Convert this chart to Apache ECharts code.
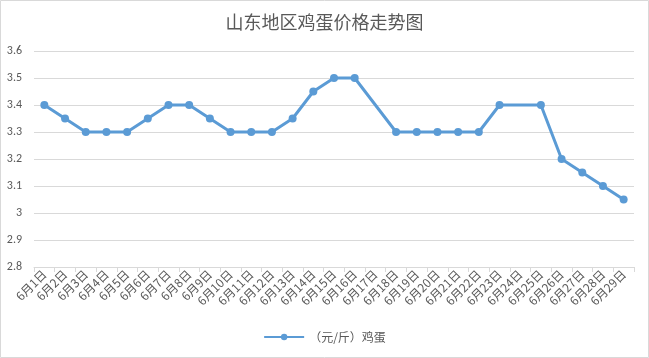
<!DOCTYPE html>
<html><head><meta charset="utf-8">
<script src="https://cdn.jsdelivr.net/npm/echarts@6/dist/echarts.min.js"></script>
<style>html,body{margin:0;padding:0;background:#fff}#c{width:649px;height:358px}</style>
</head><body><div id="c"></div>
<script>
const categories = ['6月1日','6月2日','6月3日','6月4日','6月5日','6月6日','6月7日','6月8日','6月9日','6月10日','6月11日','6月12日','6月13日','6月14日','6月15日','6月16日','6月17日','6月18日','6月19日','6月20日','6月21日','6月22日','6月23日','6月24日','6月25日','6月26日','6月27日','6月28日','6月29日'];
const eggPrice = [3.4,3.35,3.3,3.3,3.3,3.35,3.4,3.4,3.35,3.3,3.3,3.3,3.35,3.45,3.5,3.5,null,3.3,3.3,3.3,3.3,3.3,3.4,null,3.4,3.2,3.15,3.1,3.05];
const seriesName = '（元/斤）鸡蛋';
const chartTitle = '山东地区鸡蛋价格走势图';
const chart = echarts.init(document.getElementById('c'));
chart.setOption({
  animation:false,
  title:{text:chartTitle,left:'center',top:8,textStyle:{fontFamily:'Noto Sans CJK SC',fontSize:18,fontWeight:'normal',color:'#595959'}},
  graphic:[{type:'rect',shape:{x:0.5,y:0.5,width:648,height:357},style:{fill:'none',stroke:'#d9d9d9',lineWidth:1},silent:true}],
  legend:{bottom:10,left:'center',itemWidth:40,itemHeight:8,textStyle:{fontFamily:'Noto Sans CJK SC',fontSize:12,color:'#595959'},data:[seriesName]},
  grid:{left:34,right:15,top:51,bottom:91},
  xAxis:{type:'category',data:categories,boundaryGap:true,
    axisLine:{lineStyle:{color:'#d9d9d9'}},axisTick:{show:true,alignWithLabel:false,lineStyle:{color:'#d9d9d9'},length:5},
    axisLabel:{rotate:45,interval:0,fontFamily:'Noto Sans CJK SC',fontSize:12,color:'#595959',margin:5}},
  yAxis:{type:'value',min:2.8,max:3.6,interval:0.1,
    axisLine:{show:false},axisTick:{show:false},
    splitLine:{lineStyle:{color:'#d9d9d9'}},
    axisLabel:{fontFamily:'Calibri, Liberation Sans, sans-serif',fontSize:12,color:'#595959',margin:12,formatter:v=>String(+v.toFixed(1))}},
  series:[{name:seriesName,type:'line',data:eggPrice,connectNulls:true,symbol:'circle',symbolSize:8,
    lineStyle:{color:'#5b9bd5',width:3},itemStyle:{color:'#5b9bd5'}}]
});
</script></body></html>
